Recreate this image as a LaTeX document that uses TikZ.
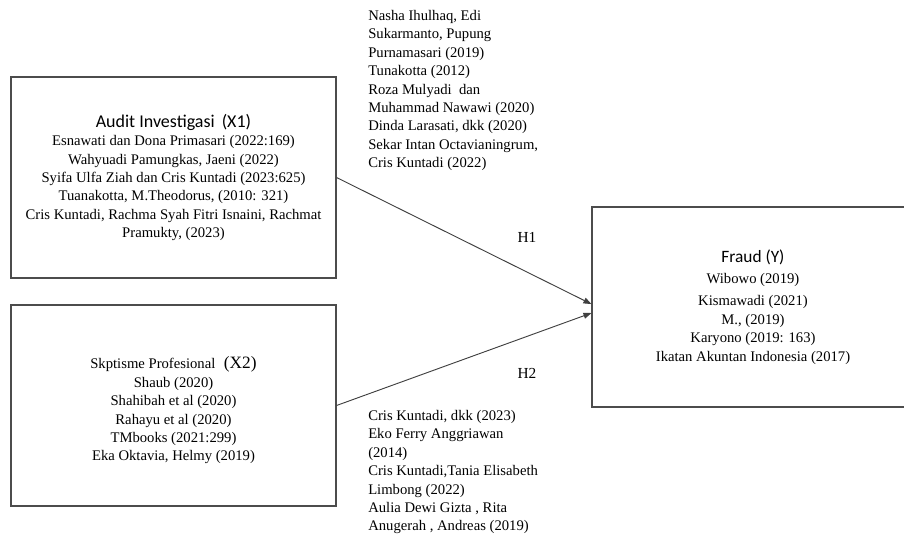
\documentclass[tikz,border=0pt]{standalone}
\usepackage{fontspec}
\setmainfont{Liberation Serif}
\newfontfamily\headfont{Carlito}
\usetikzlibrary{arrows.meta}
\begin{document}
\begin{tikzpicture}[x=0.75pt, y=-0.75pt,
                    every node/.style={font=\fontsize{11}{13.8}\selectfont, inner sep=0pt},
                    varbox/.style={draw=black!70, line width=0.8pt, align=center,
                                   minimum width=243.75pt, minimum height=150.75pt},
                    reflist/.style={align=left, anchor=north west},
                    link/.style={draw=black!75, line width=0.7pt,
                                 -{Triangle[length=6pt, width=4.5pt]}}]
          \useasboundingbox (0,0) rectangle (904,533);
          % variabel
          \node[varbox] (x1) at (173.5,177.5) {{\headfont\fontsize{13.5}{15}\selectfont Audit Investigasi\, (X1)}\\[0pt]
            Esnawati dan Dona Primasari (2022:169)\\
            Wahyuadi Pamungkas, Jaeni (2022)\\
            Syifa Ulfa Ziah dan Cris Kuntadi (2023:625)\\
            Tuanakotta, M.Theodorus, (2010: 321)\\
            Cris Kuntadi, Rachma Syah Fitri Isnaini, Rachmat\\
            Pramukty, (2023)};
          \node[varbox] (x2) at (173.5,405.5) {\rule{0pt}{16.5pt}Skptisme Profesional\,\, {\fontsize{13}{14}\selectfont (X2)}\\
            Shaub (2020)\\
            Shahibah et al (2020)\\
            Rahayu et al (2020)\\
            TMbooks (2021:299)\\
            Eka Oktavia, Helmy (2019)};
          \node[varbox, minimum width=241.5pt, minimum height=150pt] (y) at (753,307)
            {{\headfont\fontsize{13}{14.5}\selectfont Fraud (Y)}\\[2pt]
            Wibowo (2019)\\[3pt]
            Kismawadi (2021)\\
            M., (2019)\\
            Karyono (2019: 163)\\
            Ikatan Akuntan Indonesia (2017)};
          % referensi hipotesis
          \node[reflist] (ref1) at (368,10) {Nasha Ihulhaq, Edi\\
            Sukarmanto, Pupung\\
            Purnamasari (2019)\\
            Tunakotta (2012)\\
            Roza Mulyadi\ \ dan\\
            Muhammad Nawawi (2020)\\
            Dinda Larasati, dkk (2020)\\
            Sekar Intan Octavianingrum,\\
            Cris Kuntadi (2022)};
          \node[reflist] (ref2) at (368,410) {Cris Kuntadi, dkk (2023)\\
            Eko Ferry Anggriawan\\
            (2014)\\
            Cris Kuntadi,Tania Elisabeth\\
            Limbong (2022)\\
            Aulia Dewi Gizta , Rita\\
            Anugerah , Andreas (2019)};
          \node[font=\fontsize{11.5}{13}\selectfont] (h1) at (527,237) {H1};
          \node[font=\fontsize{11.5}{13}\selectfont] (h2) at (527,373) {H2};
          \draw[link] (x1.east) -- ([yshift=2.2pt]y.west);
          \draw[link] (x2.east) -- ([yshift=-4.5pt]y.west);
        \end{tikzpicture}
\end{document}
